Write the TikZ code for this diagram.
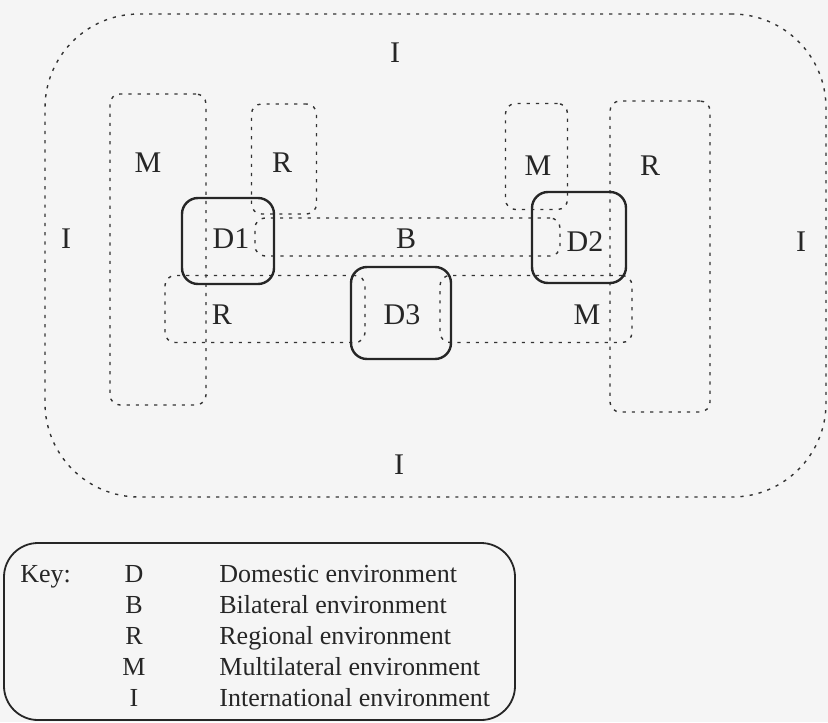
\documentclass[tikz,border=0pt]{standalone}
\usepackage{fontspec}
\setmainfont{Liberation Serif}
\begin{document}
\begin{tikzpicture}[x=0.5pt,y=-0.5pt,
  area/.style n args={2}{inner sep=0pt,outer sep=0pt,minimum width=#1*0.5pt,minimum height=#2*0.5pt},
  envbox/.style n args={2}{area={#1}{#2},draw=black!80,line width=0.7pt,dash pattern=on 1.6pt off 3pt,rounded corners=5pt},
  dombox/.style n args={2}{area={#1}{#2},draw=black!85,line width=1.2pt,rounded corners=8pt},
  lab/.style={font=\fontsize{15}{18}\selectfont,text=black!85,inner sep=0pt},
  keytext/.style={font=\fontsize{13}{15}\selectfont,text=black!85,inner sep=0pt,anchor=base west},
  keyletter/.style={keytext,anchor=base}]
\fill[black!4] (0,0) rectangle (828,722);
\useasboundingbox (0,0) rectangle (828,722);
\node[envbox={781}{483},rounded corners=47pt] (intl) at (435.5,255.5) {};
\node[envbox={96}{311}] (mleft) at (158,249.5) {};
\node[envbox={65}{110}] (rtop) at (284,159) {};
\node[envbox={305}{38}] (bil) at (407.5,237) {};
\node[envbox={200}{67}] (rbot) at (265,309) {};
\node[envbox={192}{67}] (mbot) at (536,309) {};
\node[envbox={62}{106}] (mtop) at (536.5,156.5) {};
\node[envbox={100}{311}] (rright) at (660,256.5) {};
\node[dombox={92}{86}] (dom1) at (228,241) {};
\node[dombox={94}{91}] (dom2) at (579,237.5) {};
\node[dombox={100}{92}] (dom3) at (401,313) {};
\node[lab] (itop) at (395,53) {I};
\node[lab] (ileft) at (66,239) {I};
\node[lab] (iright) at (801,242) {I};
\node[lab] (ibot) at (399,465) {I};
\node[lab] (lm1) at (148,163) {M};
\node[lab] (lr1) at (282,163) {R};
\node[lab] (lm2) at (538,166) {M};
\node[lab] (lr2) at (650,166) {R};
\node[lab] (ld1) at (231,239) {D1};
\node[lab] (lb) at (406,239) {B};
\node[lab] (ld2) at (585,242) {D2};
\node[lab] (lr3) at (222,315) {R};
\node[lab] (ld3) at (402,315) {D3};
\node[lab] (lm3) at (587,315) {M};
\node[area={511}{177},draw=black!85,line width=0.9pt,rounded corners=17pt] (key) at (259.5,631.5) {};
\node[keytext] (keyhead) at (20,582.5) {Key:};
\node[keyletter] (kd) at (134,582.5) {D};
\node[keyletter] (kb) at (134,613.5) {B};
\node[keyletter] (kr) at (134,644.5) {R};
\node[keyletter] (km) at (134,675.5) {M};
\node[keyletter] (ki) at (134,706.5) {I};
\node[keytext] (kdt) at (219,582.5) {Domestic environment};
\node[keytext] (kbt) at (219,613.5) {Bilateral environment};
\node[keytext] (krt) at (219,644.5) {Regional environment};
\node[keytext] (kmt) at (219,675.5) {Multilateral environment};
\node[keytext] (kit) at (219,706.5) {International environment};
\end{tikzpicture}
\end{document}
